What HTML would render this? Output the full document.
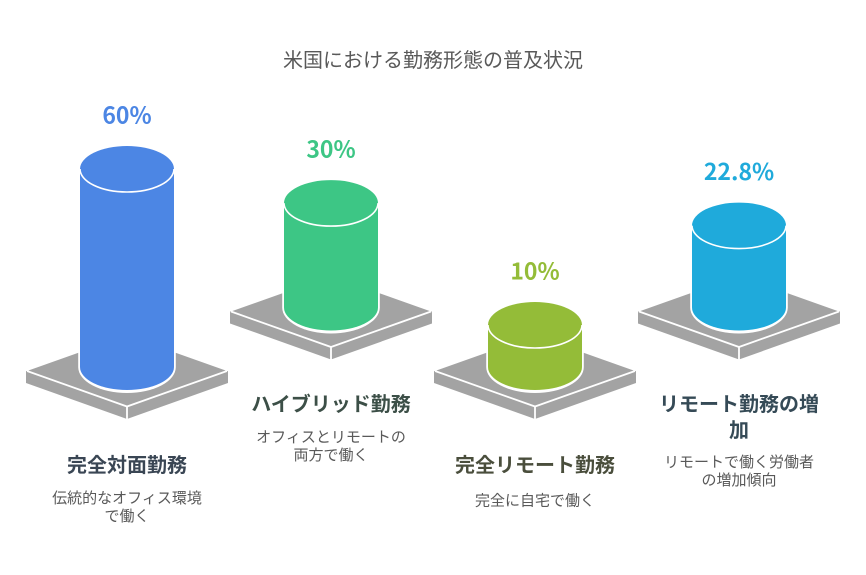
<!DOCTYPE html>
<html lang="ja">
<head>
<meta charset="utf-8">
<title>米国における勤務形態の普及状況</title>
<style>
  html, body { margin: 0; padding: 0; background: #ffffff; }
  body { width: 866px; height: 575px; overflow: hidden; }
  svg { display: block; }
  text { font-family: "Liberation Sans", "Noto Sans CJK JP", sans-serif; text-anchor: middle; dominant-baseline: central; }
  .value { font-family: "Noto Sans CJK JP", "Liberation Sans", sans-serif; }
</style>
</head>
<body>
<svg id="chart" xmlns="http://www.w3.org/2000/svg" width="866" height="575" viewBox="0 0 866 575">
  <rect x="0" y="0" width="866" height="575" fill="#ffffff"></rect>
  <text x="433" y="61" font-size="20" fill="#595959">米国における勤務形態の普及状況</text>
</svg>
<script>
const categories = ['完全対面勤務', 'ハイブリッド勤務', '完全リモート勤務', 'リモート勤務の増\n加'];
const descriptions = ['伝統的なオフィス環境\nで働く', 'オフィスとリモートの\n両方で働く', '完全に自宅で働く', 'リモートで働く労働者\nの増加傾向'];
const values = [60, 30, 10, 22.8];
const valueLabels = ['60%', '30%', '10%', '22.8%'];
const seriesColors = ['#4c86e4', '#3dc685', '#94bc38', '#1faadb'];
const titleColors = ['#3a4654', '#3c4f47', '#4a4e3c', '#354a56'];

const svg = document.getElementById('chart');
const NS = 'http://www.w3.org/2000/svg';

function xScale(i) { return 127 + 204 * i; }
function baseY(i) { return i % 2 === 0 ? 367 : 307.5; }
function heightScale(v) { return 3.12 * v + 10.8; }

function make(tag, attrs, parent) {
  const el = document.createElementNS(NS, tag);
  for (const k in attrs) el.setAttribute(k, attrs[k]);
  parent.appendChild(el);
  return el;
}

values.forEach(function (v, i) {
  const cx = xScale(i);
  const by = baseY(i);
  const h = heightScale(v);
  const topY = by - h;
  const rx = 47, ry = 23;
  const g = make('g', {}, svg);
  
  

  // platform
  const py = by + 4;
  const side = make('polygon', {
    points: [[cx - 101, py], [cx - 101, py + 12], [cx, py + 48], [cx + 101, py + 12], [cx + 101, py]].join(' '),
    fill: '#a3a3a3'
  }, g);
  
  

  const face = make('polygon', {
    points: [[cx - 100, py], [cx, py - 35.5], [cx + 100, py], [cx, py + 35.5]].join(' '),
    fill: '#a3a3a3'
  }, g);
  
  

  const edge = make('polyline', {
    points: [[cx - 100, py], [cx, py + 35.5], [cx + 100, py]].join(' '),
    fill: 'none', stroke: '#ffffff', 'stroke-width': 1.8
  }, g);
  
  

  const corner = make('line', {
    x1: cx, y1: py + 35.5, x2: cx, y2: py + 48,
    stroke: '#ffffff', 'stroke-width': 1.8
  }, g);
  
  

  // halo behind the cylinder base
  const halo = make('path', {
    d: 'M' + (cx - rx - 1.8) + ' ' + (by - 30) + 'V' + by +
       'A' + (rx + 1.8) + ' ' + (ry + 3) + ' 0 0 0 ' + (cx + rx + 1.8) + ' ' + by +
       'V' + (by - 30) + 'Z',
    fill: '#ffffff'
  }, g);
  
  

  // cylinder body
  const body = make('path', {
    d: 'M' + (cx - rx) + ' ' + topY + 'V' + by +
       'A' + rx + ' ' + ry + ' 0 0 0 ' + (cx + rx) + ' ' + by +
       'V' + topY + 'Z',
    fill: seriesColors[i]
  }, g);
  
  

  // cylinder top
  const top = make('ellipse', {
    cx: cx, cy: topY, rx: rx, ry: ry,
    fill: seriesColors[i]
  }, g);
  
  

  const rim = make('path', {
    d: 'M' + (cx - rx) + ' ' + topY + 'A' + rx + ' ' + ry + ' 0 0 0 ' + (cx + rx) + ' ' + topY,
    fill: 'none', stroke: '#ffffff', 'stroke-width': 1.6
  }, g);
  
  

  // value label
  const val = make('text', {
    x: cx, y: topY - 55.5, 'font-size': 23, 'font-weight': 700, fill: seriesColors[i], 'class': 'value'
  }, g);
  val.textContent = valueLabels[i];
  
  

  // category title
  let y = 466;
  if (i === 1) y = 405;
  if (i === 3) y = 405;
  const titleLines = categories[i].split('\n');
  titleLines.forEach(function (line, j) {
    const t = make('text', {
      x: cx, y: y + j * 26, 'font-size': 20, 'font-weight': 700, fill: titleColors[i]
    }, g);
    t.textContent = line;
    
    
  });
  y += (titleLines.length - 1) * 26;

  // description
  const descLines = descriptions[i].split('\n');
  let gap = descLines.length === 1 ? 35 : 32.5;
  if (i === 3) gap = 31.5;
  descLines.forEach(function (line, j) {
    const d = make('text', {
      x: cx, y: y + gap + j * 18, 'font-size': 15, fill: '#595959'
    }, g);
    d.textContent = line;
    
    
  });
});
</script>
</body>
</html>
